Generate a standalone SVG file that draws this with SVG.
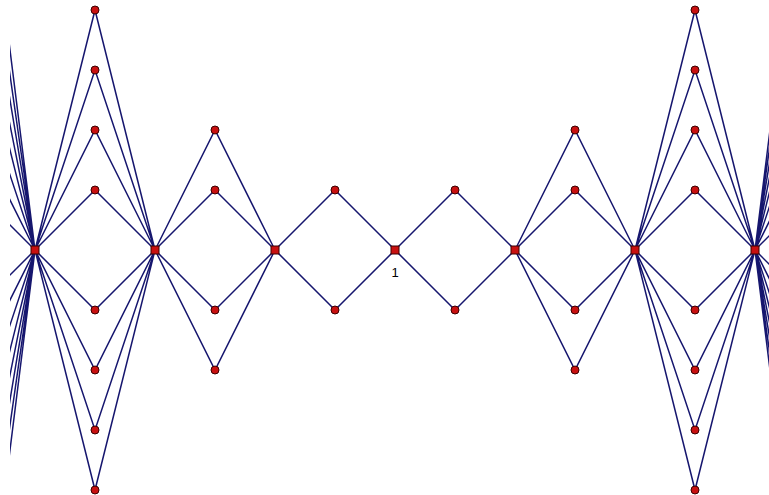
<svg xmlns="http://www.w3.org/2000/svg" width="769" height="495" viewBox="0 0 769 495">
<style>
.e{fill:none;stroke:#16166e;stroke-width:1.5}
.c{fill:#c81010;stroke:#3a0000;stroke-width:1}
.s{fill:#c81010;stroke:#3a0000;stroke-width:1}
.t{font-family:"Liberation Sans",Arial,sans-serif;font-size:13px;fill:#000;text-anchor:middle}
</style>
<defs>
<clipPath id="cl"><rect x="10" y="0" width="759" height="495"/></clipPath>
</defs>
<rect width="769" height="495" fill="#fff"/>
<g id="connectors" clip-path="url(#cl)">
<path class="e" d="M-25 -230L35 250M-25 -170L35 250M-25 -110L35 250M-25 -50L35 250M-25 10L35 250M-25 70L35 250M-25 130L35 250M-25 190L35 250M-25 310L35 250M-25 370L35 250M-25 430L35 250M-25 490L35 250M-25 550L35 250M-25 610L35 250M-25 670L35 250M-25 730L35 250"/>
<path class="e" d="M35 250L95 10L155 250M35 250L95 70L155 250M35 250L95 130L155 250M35 250L95 190L155 250M35 250L95 310L155 250M35 250L95 370L155 250M35 250L95 430L155 250M35 250L95 490L155 250"/>
<path class="e" d="M155 250L215 130L275 250M155 250L215 190L275 250M155 250L215 310L275 250M155 250L215 370L275 250"/>
<path class="e" d="M275 250L335 190L395 250M275 250L335 310L395 250"/>
<path class="e" d="M395 250L455 190L515 250M395 250L455 310L515 250"/>
<path class="e" d="M515 250L575 130L635 250M515 250L575 190L635 250M515 250L575 310L635 250M515 250L575 370L635 250"/>
<path class="e" d="M635 250L695 10L755 250M635 250L695 70L755 250M635 250L695 130L755 250M635 250L695 190L755 250M635 250L695 310L755 250M635 250L695 370L755 250M635 250L695 430L755 250M635 250L695 490L755 250"/>
<path class="e" d="M815 -230L755 250M815 -170L755 250M815 -110L755 250M815 -50L755 250M815 10L755 250M815 70L755 250M815 130L755 250M815 190L755 250M815 310L755 250M815 370L755 250M815 430L755 250M815 490L755 250M815 550L755 250M815 610L755 250M815 670L755 250M815 730L755 250"/>
</g>
<g id="n-a0"><rect class="s" x="31" y="246" width="8" height="8"/></g>
<g id="n-a1"><rect class="s" x="151" y="246" width="8" height="8"/></g>
<g id="n-a2"><rect class="s" x="271" y="246" width="8" height="8"/></g>
<g id="n-a3"><rect class="s" x="391" y="246" width="8" height="8"/><text class="t" x="395" y="277">1</text></g>
<g id="n-a4"><rect class="s" x="511" y="246" width="8" height="8"/></g>
<g id="n-a5"><rect class="s" x="631" y="246" width="8" height="8"/></g>
<g id="n-a6"><rect class="s" x="751" y="246" width="8" height="8"/></g>
<g id="n-b1"><circle class="c" cx="95" cy="10" r="4"/></g>
<g id="n-b2"><circle class="c" cx="95" cy="70" r="4"/></g>
<g id="n-b3"><circle class="c" cx="95" cy="130" r="4"/></g>
<g id="n-b4"><circle class="c" cx="95" cy="190" r="4"/></g>
<g id="n-b5"><circle class="c" cx="95" cy="310" r="4"/></g>
<g id="n-b6"><circle class="c" cx="95" cy="370" r="4"/></g>
<g id="n-b7"><circle class="c" cx="95" cy="430" r="4"/></g>
<g id="n-b8"><circle class="c" cx="95" cy="490" r="4"/></g>
<g id="n-c1"><circle class="c" cx="215" cy="130" r="4"/></g>
<g id="n-c2"><circle class="c" cx="215" cy="190" r="4"/></g>
<g id="n-c3"><circle class="c" cx="215" cy="310" r="4"/></g>
<g id="n-c4"><circle class="c" cx="215" cy="370" r="4"/></g>
<g id="n-d1"><circle class="c" cx="335" cy="190" r="4"/></g>
<g id="n-d2"><circle class="c" cx="335" cy="310" r="4"/></g>
<g id="n-e1"><circle class="c" cx="455" cy="190" r="4"/></g>
<g id="n-e2"><circle class="c" cx="455" cy="310" r="4"/></g>
<g id="n-f1"><circle class="c" cx="575" cy="130" r="4"/></g>
<g id="n-f2"><circle class="c" cx="575" cy="190" r="4"/></g>
<g id="n-f3"><circle class="c" cx="575" cy="310" r="4"/></g>
<g id="n-f4"><circle class="c" cx="575" cy="370" r="4"/></g>
<g id="n-g1"><circle class="c" cx="695" cy="10" r="4"/></g>
<g id="n-g2"><circle class="c" cx="695" cy="70" r="4"/></g>
<g id="n-g3"><circle class="c" cx="695" cy="130" r="4"/></g>
<g id="n-g4"><circle class="c" cx="695" cy="190" r="4"/></g>
<g id="n-g5"><circle class="c" cx="695" cy="310" r="4"/></g>
<g id="n-g6"><circle class="c" cx="695" cy="370" r="4"/></g>
<g id="n-g7"><circle class="c" cx="695" cy="430" r="4"/></g>
<g id="n-g8"><circle class="c" cx="695" cy="490" r="4"/></g>
</svg>
